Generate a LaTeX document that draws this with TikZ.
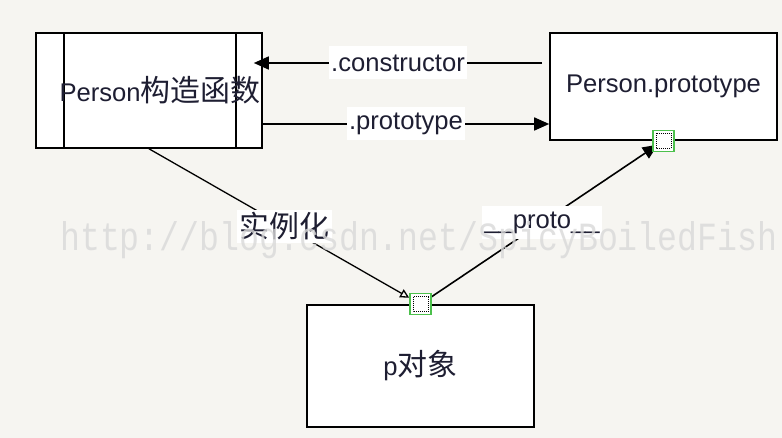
\documentclass[tikz,border=0pt]{standalone}
\usepackage{fontspec}
\setmainfont{Liberation Sans}
\newfontfamily\cjk[Scale=1.17]{Noto Sans CJK SC}
\newfontfamily\wmfont[FakeStretch=0.83]{Liberation Mono}
\usetikzlibrary{arrows.meta}
\definecolor{paper}{HTML}{F6F5F1}
\definecolor{handlegreen}{HTML}{4CC04C}
\definecolor{ink}{HTML}{1E1E32}

\begin{document}
\begin{tikzpicture}
        [x=1pt, y=-1pt,
        font=\fontsize{25.6}{30}\selectfont,
        box/.style={rectangle, draw=black, fill=white, line width=1.6pt, inner sep=0pt, text=ink},
        ctorbox/.style={box, path picture={
            \draw[line width=1.6pt] ([xshift=28pt]path picture bounding box.north west)
              -- ([xshift=28pt]path picture bounding box.south west);
            \draw[line width=1.6pt] ([xshift=-26pt]path picture bounding box.north east)
              -- ([xshift=-26pt]path picture bounding box.south east);}},
        handle/.style={draw=handlegreen, fill=white, line width=1.2pt, minimum size=21pt, inner sep=0pt,
          path picture={\draw[black, densely dotted, line width=1pt]
            ([shift={(3pt,-3pt)}]path picture bounding box.north west) rectangle
            ([shift={(-3pt,3pt)}]path picture bounding box.south east);}},
        tag/.style={fill=white, text=ink, inner xsep=2.5pt, inner ysep=0pt, minimum height=33pt},
        arr/.style={-{Triangle[length=15pt,width=13pt]}, line width=1.6pt},
        thinarr/.style={-{Triangle[open,length=9pt,width=9pt]}, line width=1.3pt}]
        \fill[paper] (0,0) rectangle (782,438);
        \useasboundingbox (0,0) rectangle (782,438);
        % boxes
        \node (proto) at (663.5,86.5) [box, minimum width=227pt, minimum height=107pt] {Person.prototype};
        \node (pobj) at (420.5,366) [box, minimum width=227pt, minimum height=122pt] {p{\cjk 对象}};
        \node (ctor) at (149,90.5) [ctorbox, minimum width=226pt, minimum height=115pt,
           label={[xshift=11pt, text=ink]center:Person{\cjk 构造函数}}] {};
        % links
        \draw[arr] ([xshift=-7pt,yshift=23.5pt]proto.west)
           -- node[tag] {.constructor} ([xshift=-9pt,yshift=27.5pt]ctor.east);
        \draw[arr] ([yshift=-33.5pt]ctor.east)
           -- node[tag] {.prototype} ([yshift=-33.5pt]ctor.east -| proto.west);
        \node (hp) at (pobj.north) [handle] {};
        \node (hproto) at (proto.south) [handle] {};
        \draw[thinarr, shorten >=13pt] (ctor.south) -- node[tag] {\cjk 实例化} (hp.center);
        \draw[arr, shorten <=10pt, shorten >=7pt] (hp.center) -- node[tag] {\_\_proto\_\_} (hproto.center);
        % handles on top
        \node at (hp) [handle] {};
        \node at (hproto) [handle] {};
        % watermark
        \node (mark) at (60,251) [anchor=base west, inner sep=0pt, text=black!15, opacity=0.8,
           font=\wmfont\fontsize{40}{40}\selectfont] {http://blog.csdn.net/SpicyBoiledFish};
\end{tikzpicture}
\end{document}
